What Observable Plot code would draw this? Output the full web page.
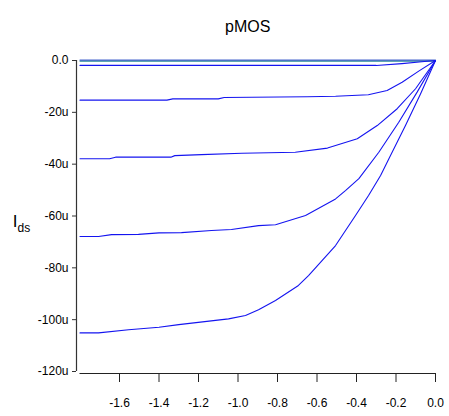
<!DOCTYPE html>
<html>
<head>
<meta charset="utf-8">
<script src="https://cdn.jsdelivr.net/npm/d3@7"></script>
<script src="https://cdn.jsdelivr.net/npm/@observablehq/plot@0.6"></script>
<style>
  html, body { margin: 0; padding: 0; background: #fff; }
  #chart svg { display: block; font-family: "Liberation Sans", Arial, sans-serif; }
</style>
</head>
<body>
<div id="chart"></div>
<script>
// Vds (V) and Ids (µA) for each gate-voltage curve
const vds0 = [-1.8, 0];
const ids0 = [0, 0];

const vds1 = [-1.8, -0.3, -0.17, -0.07, 0];
const ids1 = [-1.9, -1.9, -1.2, -0.5, 0];

const vds2 = [-1.8, -1.36, -1.33, -1.1, -1.07, -0.65, -0.506, -0.34, -0.245, -0.169, -0.085, 0];
const ids2 = [-15.3, -15.3, -14.8, -14.8, -14.3, -14.0, -13.8, -13.2, -11.6, -8.4, -4.1, 0];

const vds3 = [-1.8, -1.65, -1.62, -1.34, -1.32, -1.185, -0.98, -0.71, -0.547, -0.506, -0.396, -0.295, -0.194, -0.101, 0];
const ids3 = [-37.9, -37.9, -37.3, -37.3, -36.7, -36.3, -35.8, -35.4, -33.8, -32.8, -30.2, -25.1, -18.6, -10.9, 0];

const vds4 = [-1.8, -1.706, -1.64, -1.504, -1.40, -1.286, -1.134, -1.033, -0.896, -0.81, -0.658, -0.506, -0.456, -0.388, -0.287, -0.186, -0.093, 0];
const ids4 = [-67.9, -67.9, -67.2, -67.1, -66.5, -66.4, -65.6, -65.2, -63.7, -63.4, -59.8, -53.4, -50.2, -45.6, -35.4, -23.8, -12.2, 0];

const vds5 = [-1.8, -1.706, -1.554, -1.40, -1.30, -1.048, -0.962, -0.896, -0.81, -0.694, -0.643, -0.506, -0.405, -0.339, -0.278, -0.236, -0.152, -0.076, 0];
const ids5 = [-105.1, -105.1, -103.9, -102.9, -101.9, -99.7, -98.4, -96.2, -92.6, -86.8, -83.0, -71.4, -59.8, -52.1, -44.4, -37.9, -25.1, -12.9, 0];

const xDomain = [-1.8, 0];
const yDomain = [-120, 0];
const xTicks = [-1.6, -1.4, -1.2, -1.0, -0.8, -0.6, -0.4, -0.2, 0.0];
const xTickLabels = ["-1.6", "-1.4", "-1.2", "-1.0", "-0.8", "-0.6", "-0.4", "-0.2", "0.0"];
const yTicks = [0, -20, -40, -60, -80, -100, -120];
const yTickLabels = ["0.0", "-20u", "-40u", "-60u", "-80u", "-100u", "-120u"];
const titleText = "pMOS";

const curves = [[vds0, ids0], [vds1, ids1], [vds2, ids2], [vds3, ids3], [vds4, ids4], [vds5, ids5]];
const rows = [];
curves.forEach(([xs, ys], k) => xs.forEach((x, i) => rows.push({curve: k, vds: x, ids: ys[i]})));
const zeroRows = rows.filter(d => d.curve === 0);
const otherRows = rows.filter(d => d.curve !== 0);

const chart = Plot.plot({
  width: 449,
  height: 416,
  marginLeft: 79.5,
  marginRight: 14,
  marginTop: 60,
  marginBottom: 45,
  style: {fontFamily: "Liberation Sans, Arial, sans-serif", fontSize: "12px", color: "#000", background: "#fff"},
  x: {domain: xDomain, label: null},
  y: {domain: yDomain, label: null},
  marks: [
    Plot.ruleX([xDomain[0]], {dx: -3.5, stroke: "#333", strokeWidth: 1.2}),
    Plot.ruleY([yDomain[0]], {dy: 2, stroke: "#222", strokeWidth: 1.2}),
    Plot.axisY({ticks: yTicks, tickFormat: (d) => yTickLabels[yTicks.indexOf(d)], tickSize: 4, tickPadding: 4, dx: -3.5, fontSize: 12, stroke: "#333", label: null}),
    Plot.axisX({ticks: xTicks, tickFormat: (d) => xTickLabels[xTicks.indexOf(d)], tickSize: 9, tickPadding: 16, dy: 2, fontSize: 12, stroke: "#222", label: null}),
    Plot.line(zeroRows, {x: "vds", y: "ids", stroke: "#2b8a9a", strokeWidth: 1.2, dy: 0.6}),
    Plot.line(zeroRows, {x: "vds", y: "ids", stroke: "#1a3fc0", strokeWidth: 1, dy: -0.4}),
    Plot.line(otherRows, {x: "vds", y: "ids", z: "curve", stroke: "#1414f0", strokeWidth: 1.1}),
    Plot.text([titleText], {frameAnchor: "top", dx: -10, dy: -40, fontSize: 16, fill: "#000"}),
    Plot.text(["I"], {frameAnchor: "top-left", dx: -65, dy: 154, fontSize: 17, fill: "#000", textAnchor: "middle"}),
    Plot.text(["ds"], {frameAnchor: "top-left", dx: -62.5, dy: 163, fontSize: 12, fill: "#000", textAnchor: "start"})
  ]
});
document.getElementById("chart").appendChild(chart);
</script>
</body>
</html>
